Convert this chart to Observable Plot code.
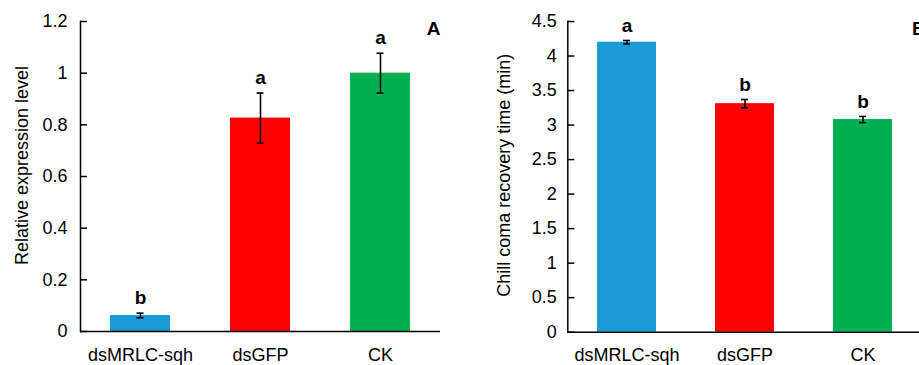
<!DOCTYPE html>
<html><head><meta charset="utf-8">
<script src="https://cdn.jsdelivr.net/npm/d3@7"></script>
<script src="https://cdn.jsdelivr.net/npm/@observablehq/plot@0.6"></script>
<style>
html,body{margin:0;padding:0;background:#fff;}
#wrap{position:relative;width:919px;height:365px;overflow:hidden;background:#fff;}
#a{position:absolute;left:0;top:0;width:460px;}
#b{position:absolute;left:460px;top:0;width:470px;}
#wrap svg{max-width:none !important;}
</style></head><body><div id="wrap"><div id="a"></div><div id="b"></div></div>
<script>
const groups = ["dsMRLC-sqh", "dsGFP", "CK"];
const barColors = ["#1a9ad6", "#ff0000", "#00b050"];

const exprMean = [0.062, 0.826, 1.0];
const exprErr = [0.009, 0.097, 0.077];
const exprLetters = ["b", "a", "a"];
const exprTicks = [0, 0.2, 0.4, 0.6, 0.8, 1, 1.2];
const exprTitle = "Relative expression level";

const ccrtMean = [4.2, 3.31, 3.08];
const ccrtErr = [0.025, 0.06, 0.045];
const ccrtLetters = ["a", "b", "b"];
const ccrtTicks = [0, 0.5, 1, 1.5, 2, 2.5, 3, 3.5, 4, 4.5];
const ccrtTitle = "Chill coma recovery time (min)";

function panel(o) {
  const rows = groups.map((g, i) => ({g, mean: o.means[i], err: o.errs[i], letter: o.letters[i], color: barColors[i]}));
  return Plot.plot({
    width: o.width, height: 365,
    marginLeft: o.marginLeft, marginRight: o.marginRight, marginTop: 21, marginBottom: o.marginBottom,
    style: {fontFamily: "Arial, 'Liberation Sans', sans-serif", fontSize: "18px", color: "#000", background: "transparent", overflow: "visible", maxWidth: "none"},
    x: {domain: groups, paddingInner: 0.5, paddingOuter: 0.25, label: null},
    y: {domain: [0, o.ticks[o.ticks.length - 1]], label: null},
    color: {type: "identity"},
    marks: [
      Plot.barY(rows, {x: "g", y: "mean", fill: "color"}),
      Plot.ruleX(rows, {x: "g", y1: d => d.mean - d.err, y2: d => d.mean + d.err, stroke: "#000", strokeWidth: 1.6}),
      Plot.tickY(rows, {x: "g", y: d => d.mean - d.err, stroke: "#000", strokeWidth: 1.6, insetLeft: o.capInset, insetRight: o.capInset}),
      Plot.tickY(rows, {x: "g", y: d => d.mean + d.err, stroke: "#000", strokeWidth: 1.6, insetLeft: o.capInset, insetRight: o.capInset}),
      Plot.text(rows, {x: "g", y: d => d.mean + d.err, text: "letter", dy: -15, fontWeight: "bold", fontSize: 19, lineAnchor: "middle"}),
      Plot.axisY({ticks: o.ticks, tickFormat: d => String(d), tickSize: -7, tickPadding: o.tickPadding, strokeWidth: 1.5, label: null}),
      Plot.axisX({tickSize: 0, tickPadding: o.xPad, label: null}),
      Plot.frame({anchor: "left", strokeWidth: 1.5}),
      Plot.ruleY([0], {strokeWidth: 1.5}),
      Plot.text([o.title], {text: d => d, frameAnchor: "left", textAnchor: "middle", rotate: -90, dx: o.titleDx, dy: o.titleDy, fontSize: 18, lineAnchor: "middle"}),
      Plot.text([o.panel], {text: d => d, frameAnchor: "top-right", textAnchor: o.panelAnchor, lineAnchor: "top", dx: o.panelDx, fontWeight: "bold", fontSize: 19})
    ]
  });
}

document.getElementById("a").append(panel({
  width: 460, marginLeft: 80, marginRight: 20, marginBottom: 34,
  means: exprMean, errs: exprErr, letters: exprLetters, ticks: exprTicks,
  title: exprTitle, titleDx: -58.5, titleDy: -11, tickPadding: 20, xPad: 17,
  panel: "A", panelAnchor: "end", panelDx: 0, capInset: 26.5
}));

document.getElementById("b").append(panel({
  width: 470, marginLeft: 107.3, marginRight: 7.5, marginBottom: 33.3,
  means: ccrtMean, errs: ccrtErr, letters: ccrtLetters, ticks: ccrtTicks,
  title: ccrtTitle, titleDx: -64, titleDy: -1.5, tickPadding: 18, xPad: 16,
  panel: "B", panelAnchor: "start", panelDx: -11, capInset: 26
}));
</script></body></html>
